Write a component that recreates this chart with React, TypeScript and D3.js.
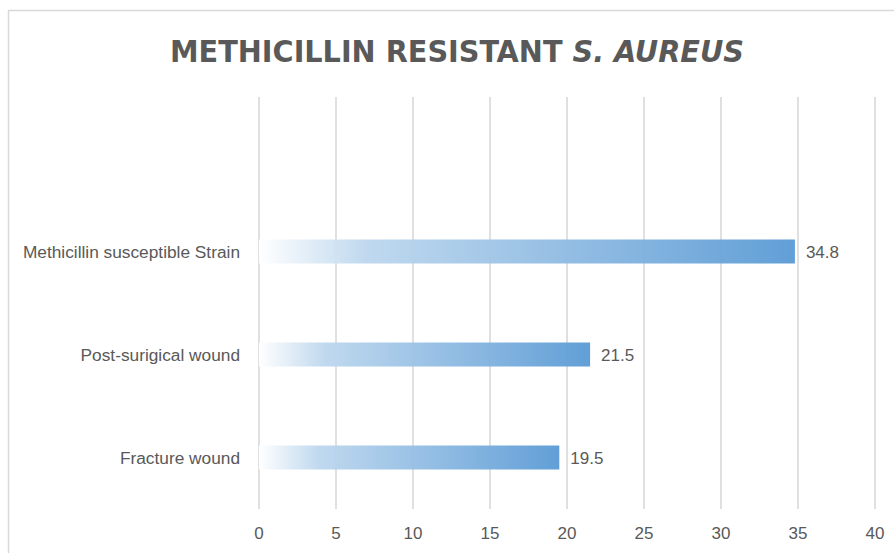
import React from "react";
import * as d3 from "d3";

const categories: string[] = ["", "Methicillin susceptible Strain", "Post-surigical wound", "Fracture wound"];
const values: (number | null)[] = [null, 34.8, 21.5, 19.5];
const xTicks: number[] = [0, 5, 10, 15, 20, 25, 30, 35, 40];
const titleMain = "METHICILLIN RESISTANT ";
const titleItalic = "S. AUREUS";

const W = 894;
const H = 553;
const TEXT = "#595959";
const FONT = "'Liberation Sans', Arial, sans-serif";

export default function App() {
  const keys = categories.map((c, i) => i + "|" + c);
  const x = d3.scaleLinear().domain([0, 40]).range([259, 875]);
  const y = d3.scaleBand<string>().domain(keys).range([97, 509]).paddingInner(0.767).paddingOuter(0.3835);

  return (
    <svg width={W} height={H} style={{ position: "absolute", left: 0, top: 0, background: "#fff" }}>
      <defs>
        <linearGradient id="barGrad" x1="0" y1="0" x2="1" y2="0">
          <stop offset="0" stopColor="#ffffff" />
          <stop offset="0.2" stopColor="#bdd7ee" />
          <stop offset="1" stopColor="#5b9bd5" />
        </linearGradient>
      </defs>
      <rect x={8.5} y={10.5} width={W + 20} height={H + 20} fill="#fff" stroke="#d9d9d9" strokeWidth={1.5} />
      <text x={457} y={62} textAnchor="middle" fill={TEXT} fontFamily={"'Liberation Sans Narrow', 'DejaVu Sans Condensed', sans-serif"} fontWeight="bold" fontSize={31} textLength={574} lengthAdjust="spacingAndGlyphs">
        {titleMain}
        <tspan fontStyle="italic">{titleItalic}</tspan>
      </text>
      {xTicks.map((t) => (
        <line key={"g" + t} x1={x(t)} x2={x(t)} y1={97} y2={509} stroke="#d0d0d0" strokeWidth={1.3} />
      ))}
      {keys.map((k, i) => {
        const v = values[i];
        if (v == null) return null;
        const yy = y(k)!;
        const bh = y.bandwidth();
        return (
          <g key={k}>
            <rect x={x(0)} y={yy} width={x(v) - x(0)} height={bh} fill="url(#barGrad)" opacity={0.96} />
            <text x={x(v) + 11} y={yy + bh / 2} dy="0.36em" fill={TEXT} fontFamily={FONT} fontSize={17}>
              {v.toFixed(1)}
            </text>
          </g>
        );
      })}
      {keys.map((k, i) => (
        <text key={"c" + k} x={240} y={y(k)! + y.bandwidth() / 2} dy="0.36em" textAnchor="end" fill={TEXT} fontFamily={FONT} fontSize={17.3}>
          {categories[i]}
        </text>
      ))}
      {xTicks.map((t) => (
        <text key={"t" + t} x={x(t)} y={539} textAnchor="middle" fill={TEXT} fontFamily={FONT} fontSize={17}>
          {t}
        </text>
      ))}
    </svg>
  );
}
